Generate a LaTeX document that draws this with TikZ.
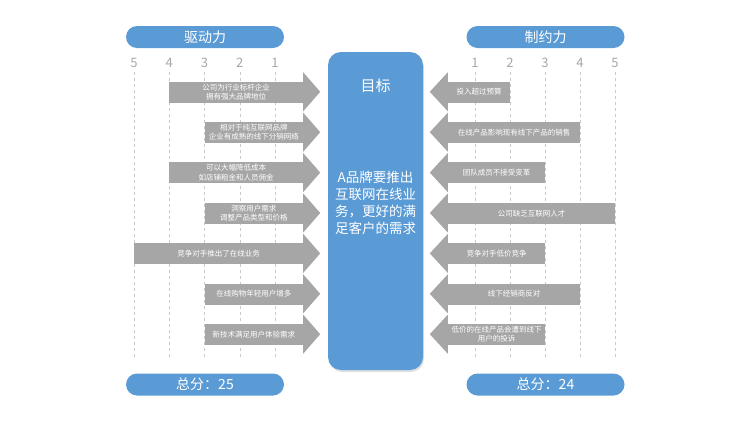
\documentclass[tikz,border=0pt]{standalone}
\usepackage{fontspec}
\setmainfont{Noto Sans CJK SC}
\usetikzlibrary{positioning, shadows}
\definecolor{pillblue}{HTML}{5B9BD5}
\definecolor{bargray}{HTML}{A6A6A6}
\definecolor{gridgray}{HTML}{C9C9C9}

\begin{document}
\begin{tikzpicture}[
  x=1pt, y=-1pt,
  pill/.style={fill=pillblue, text=white, rounded corners=11pt,
    minimum width=158pt, minimum height=22pt, inner sep=0pt,
    font=\fontsize{14}{16}\selectfont},
  scalenum/.style={text=bargray, font=\fontsize{13}{15}\selectfont},
  grid/.style={gridgray, dashed, line width=0.5pt},
  bar/.style={fill=bargray, text=white, minimum height=21pt, inner sep=1pt,
    align=center, font=\fontsize{7.5}{9.5}\selectfont},
  goal/.style={fill=pillblue, rounded corners=13pt, minimum width=95pt,
    minimum height=318pt, drop shadow={shadow xshift=1pt, shadow yshift=-2pt, opacity=0.25}}
]
  \useasboundingbox (0,0) rectangle (750,421);

  % headers and totals
  \node[pill] (drive) at (205,37) {驱动力};
  \node[pill] (limit) at (545.5,37) {制约力};
  \node[pill] (sumL) at (205,384.5) {总分：25};
  \node[pill] (sumR) at (545.5,384.5) {总分：24};

  % scales
  \foreach \k in {1,...,5} {
    \pgfmathsetmacro\xl{275-(\k-1)*35.25}
    \pgfmathsetmacro\xr{475+(\k-1)*35}
    \node[scalenum] (nl\k) at (\xl,63) {\k};
    \node[scalenum] (nr\k) at (\xr,63) {\k};
    \draw[grid] (\xl,72) -- (\xl,358);
    \draw[grid] (\xr,72) -- (\xr,358);
  }

  % goal
  \node[goal] (target) at (375.5,211) {};
  \node[text=white, font=\fontsize{15}{17}\selectfont] (title) at (375.5,86) {目标};
  \node[text=white, align=center, font=\fontsize{13.5}{17}\selectfont] (aim) at (375.5,203)
    {A品牌要推出\\互联网在线业\\务，更好的满\\足客户的需求};

  % driving forces
  \foreach \lv/\row/\txt in {
      4/0/{公司为行业标杆企业\\拥有强大品牌地位},
      3/1/{相对于纯互联网品牌\\企业有成熟的线下分销网络},
      4/2/{可以大幅降低成本\\如店铺租金和人员佣金},
      3/3/{洞察用户需求\\调整产品类型和价格},
      5/4/{竞争对手推出了在线业务},
      3/5/{在线购物年轻用户增多},
      3/6/{新技术满足用户体验需求}} {
    \pgfmathsetmacro\xs{275-(\lv-1)*35.25}
    \pgfmathsetmacro\yc{92+\row*40.4}
    \pgfmathsetmacro\cx{(\xs+303)/2}
    \pgfmathsetmacro\w{303-\xs}
    \node[bar, minimum width=\w pt] (d\row) at (\cx,\yc) {\txt};
    \fill[bargray] (d\row.north east) -- ++(0,-9) -- ++(17,19.5)
      -- ++(-17,19.5) -- ++(0,-9) -- cycle;
  }

  % restraining forces
  \foreach \lv/\row/\txt in {
      2/0/{投入超过预算},
      4/1/{在线产品影响现有线下产品的销售},
      3/2/{团队成员不接受变革},
      5/3/{公司缺乏互联网人才},
      3/4/{竞争对手低价竞争},
      4/5/{线下经销商反对},
      3/6/{低价的在线产品会遭到线下\\用户的投诉}} {
    \pgfmathsetmacro\xe{475+(\lv-1)*35}
    \pgfmathsetmacro\yc{92+\row*40.4}
    \pgfmathsetmacro\cx{(\xe+448)/2}
    \pgfmathsetmacro\w{\xe-448}
    \node[bar, minimum width=\w pt] (c\row) at (\cx,\yc) {\txt};
    \fill[bargray] (c\row.north west) -- ++(0,-9) -- ++(-18,19.5)
      -- ++(18,19.5) -- ++(0,-9) -- cycle;
  }
\end{tikzpicture}
\end{document}
